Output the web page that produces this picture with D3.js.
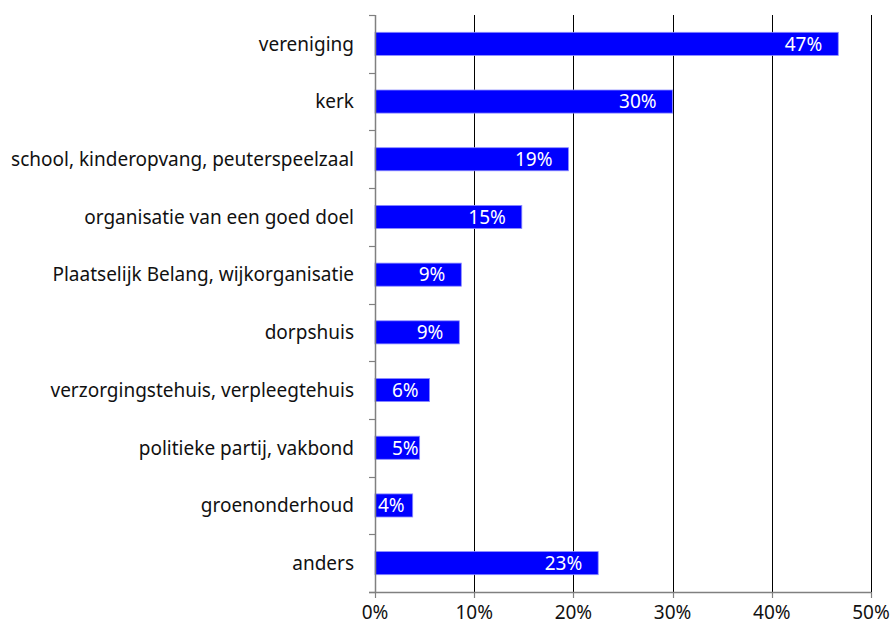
<!DOCTYPE html>
<html>
<head>
<meta charset="utf-8">
<script src="https://cdn.jsdelivr.net/npm/d3@7"></script>
<style>
  body { margin: 0; background: #fff; }
  svg text { font-family: "Noto Sans", "Open Sans", sans-serif; }
</style>
</head>
<body>
<svg id="vis" width="894" height="628"></svg>
<script>
// categories, top to bottom
const categories = [
  "vereniging",
  "kerk",
  "school, kinderopvang, peuterspeelzaal",
  "organisatie van een goed doel",
  "Plaatselijk Belang, wijkorganisatie",
  "dorpshuis",
  "verzorgingstehuis, verpleegtehuis",
  "politieke partij, vakbond",
  "groenonderhoud",
  "anders"
];
// share in percent
const values = [46.7, 30.0, 19.5, 14.8, 8.7, 8.5, 5.5, 4.5, 3.8, 22.5];
// label shown in bar
const labels = ["47%", "30%", "19%", "15%", "9%", "9%", "6%", "5%", "4%", "23%"];
const xTicks = [0, 10, 20, 30, 40, 50];

const margin = { top: 15, right: 23, bottom: 36, left: 375 };
const width = 894 - margin.left - margin.right;
const height = 628 - margin.top - margin.bottom;
const fontSize = "19px";

const svg = d3.select("svg#vis");
const plot = svg.append("g")
  .attr("transform", translate(margin.left, margin.top));

const x = d3.scaleLinear().domain([0, 50]).range([0, width]);
const y = d3.scaleBand()
  .domain(categories)
  .range([0, height])
  .paddingInner(0.6)
  .paddingOuter(0.3);

// gridlines
plot.append("g").selectAll("line.grid")
  .data(xTicks.slice(1))
  .enter().append("line")
  .attr("class", "grid")
  .attr("x1", d => Math.round(x(d)) + 0.5)
  .attr("x2", d => Math.round(x(d)) + 0.5)
  .attr("y1", 0)
  .attr("y2", height)
  .attr("stroke", "#000")
  .attr("stroke-width", 1);

// bars
const data = categories.map((c, i) => ({ cat: c, value: values[i], label: labels[i] }));

plot.append("g").selectAll("rect.bar")
  .data(data)
  .enter().append("rect")
  .attr("class", "bar")
  .attr("x", x(0))
  .attr("y", d => y(d.cat))
  .attr("width", d => x(d.value) - x(0))
  .attr("height", y.bandwidth())
  .attr("fill", "#0000ff")
  .attr("stroke", "#8c8cff")
  .attr("stroke-width", 0.8);

// value labels inside bar end
const valueText = plot.append("g").selectAll("text.value")
  .data(data)
  .enter().append("text")
  .attr("class", "value")
  .attr("y", d => y(d.cat) + y.bandwidth() / 2)
  .attr("dy", "0.36em")
  .attr("fill", "#fff")
  .style("font-size", fontSize)
  .text(d => d.label);

valueText.each(function(d) {
  const w = this.getComputedTextLength();
  const start = x(0);
  const end = x(d.value);
  let tx = Math.max(end - 16 - w, start + 17);
  if (tx + w > end) tx = start + 3;
  d3.select(this).attr("x", tx);
});

// y axis: line, ticks at band boundaries, labels
const axisColor = "#808080";
plot.append("line")
  .attr("x1", 0.5).attr("x2", 0.5)
  .attr("y1", 0).attr("y2", height)
  .attr("stroke", axisColor)
  .attr("stroke-width", 1.5);

const bounds = d3.range(categories.length + 1).map(i => i * y.step());
plot.append("g").selectAll("line.ytick")
  .data(bounds)
  .enter().append("line")
  .attr("x1", -6).attr("x2", 0)
  .attr("y1", d => Math.round(d) + 0.5)
  .attr("y2", d => Math.round(d) + 0.5)
  .attr("stroke", axisColor)
  .attr("stroke-width", 1.2);

plot.append("g").selectAll("text.cat")
  .data(categories)
  .enter().append("text")
  .attr("class", "cat")
  .attr("x", -21)
  .attr("y", d => y(d) + y.bandwidth() / 2)
  .attr("dy", "0.36em")
  .attr("text-anchor", "end")
  .attr("fill", "#111")
  .style("font-size", fontSize)
  .text(d => d);

// x axis
plot.append("line")
  .attr("x1", -6).attr("x2", width)
  .attr("y1", height + 0.5).attr("y2", height + 0.5)
  .attr("stroke", axisColor)
  .attr("stroke-width", 1.5);

plot.append("g").selectAll("line.xtick")
  .data(xTicks)
  .enter().append("line")
  .attr("x1", d => Math.round(x(d)) + 0.5)
  .attr("x2", d => Math.round(x(d)) + 0.5)
  .attr("y1", height)
  .attr("y2", height + 6)
  .attr("stroke", axisColor)
  .attr("stroke-width", 1.2);

plot.append("g").selectAll("text.xlabel")
  .data(xTicks)
  .enter().append("text")
  .attr("class", "xlabel")
  .attr("x", d => x(d))
  .attr("y", height + 27)
  .attr("text-anchor", "middle")
  .attr("fill", "#111")
  .style("font-size", fontSize)
  .text(d => d + "%");

function translate(x, y) {
  return "translate(" + String(x) + "," + String(y) + ")";
}
</script>
</body>
</html>
